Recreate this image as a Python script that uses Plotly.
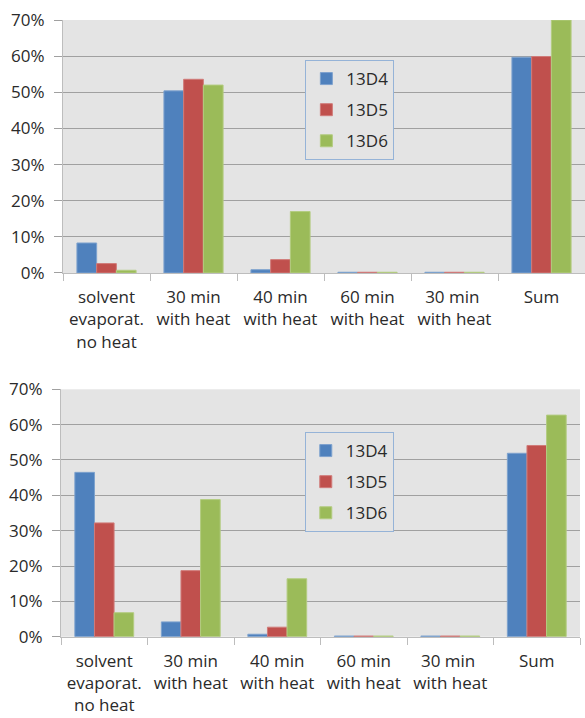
import plotly.graph_objects as go

# Categories shared by both panels (multi-line tick labels)
categories = [
    "solvent<br>evaporat.<br>no heat",
    "30 min<br>with heat",
    "40 min<br>with heat",
    "60 min<br>with heat",
    "30 min <br>with heat",
    "Sum",
]
series_names = ["13D4", "13D5", "13D6"]

# Upper panel values (fractions)
top_13d4 = [0.083, 0.504, 0.009, 0.002, 0.002, 0.597]
top_13d5 = [0.026, 0.536, 0.037, 0.002, 0.002, 0.599]
top_13d6 = [0.0075, 0.520, 0.170, 0.002, 0.002, 0.700]

# Lower panel values (fractions)
bot_13d4 = [0.465, 0.042, 0.007, 0.002, 0.002, 0.519]
bot_13d5 = [0.322, 0.187, 0.027, 0.002, 0.002, 0.541]
bot_13d6 = [0.068, 0.388, 0.164, 0.002, 0.002, 0.627]

y_ticks = [0, 0.1, 0.2, 0.3, 0.4, 0.5, 0.6, 0.7]

fill_colors = ["#4F81BD", "#C0504D", "#9BBB59"]
edge_colors = ["#7DA2CE", "#D07B79", "#B3CC80"]

FONT = "Open Sans"
TEXT = "#2A2A2A"
PLOT_BG = "#E4E4E4"
GRID = "#A0A0A0"
AXIS = "#BDBDBD"

fig = go.Figure()

panels = [
    ("x", "y", "legend", [top_13d4, top_13d5, top_13d6]),
    ("x2", "y2", "legend2", [bot_13d4, bot_13d5, bot_13d6]),
]
for xa, ya, leg, values in panels:
    for i, (name, vals) in enumerate(zip(series_names, values)):
        fig.add_trace(go.Bar(
            x=categories, y=vals, name=name,
            xaxis=xa, yaxis=ya, legend=leg,
            legendgroup=f"{leg}-{name}",
            marker=dict(color=fill_colors[i],
                        line=dict(color=edge_colors[i], width=1)),
        ))

xaxis_style = dict(
    type="category", showgrid=False, showline=True, linecolor=AXIS,
    linewidth=1, ticks="outside", tickson="boundaries", ticklen=7,
    tickcolor=AXIS, tickfont=dict(family=FONT, size=17, color=TEXT),
    ticklabelstandoff=9, fixedrange=True, automargin=False,
)
yaxis_style = dict(
    range=[0, 0.7], tickvals=y_ticks, tickformat=".0%", showgrid=True,
    gridcolor=GRID, gridwidth=1, showline=True, linecolor=AXIS,
    linewidth=1, ticks="outside", ticklen=8, tickcolor=GRID,
    tickfont=dict(family=FONT, size=17, color=TEXT),
    ticklabelstandoff=6, zeroline=False, fixedrange=True, automargin=False,
)
legend_style = dict(
    bgcolor=PLOT_BG, bordercolor="#95B3D7", borderwidth=1,
    font=dict(family=FONT, size=17, color=TEXT),
    traceorder="grouped", tracegroupgap=6, itemwidth=30,
    xanchor="left", yanchor="top", itemclick=False,
)

fig.update_layout(
    width=585, height=718,
    margin=dict(l=0, r=0, t=0, b=0, autoexpand=False),
    paper_bgcolor="white", plot_bgcolor=PLOT_BG,
    barmode="group", bargap=0.32, bargroupgap=0,
    font=dict(family=FONT, color=TEXT),
    xaxis=dict(domain=[0.1077, 1.0], anchor="y", **xaxis_style),
    yaxis=dict(domain=[0.6198, 0.9721], anchor="x", **yaxis_style),
    xaxis2=dict(domain=[0.1043, 0.9915], anchor="y2", **xaxis_style),
    yaxis2=dict(domain=[0.1132, 0.4578], anchor="x2", **yaxis_style),
    legend=dict(x=0.522, y=0.9164, **legend_style),
    legend2=dict(x=0.521, y=0.3983, **legend_style),
)

fig.write_html("out.html")
